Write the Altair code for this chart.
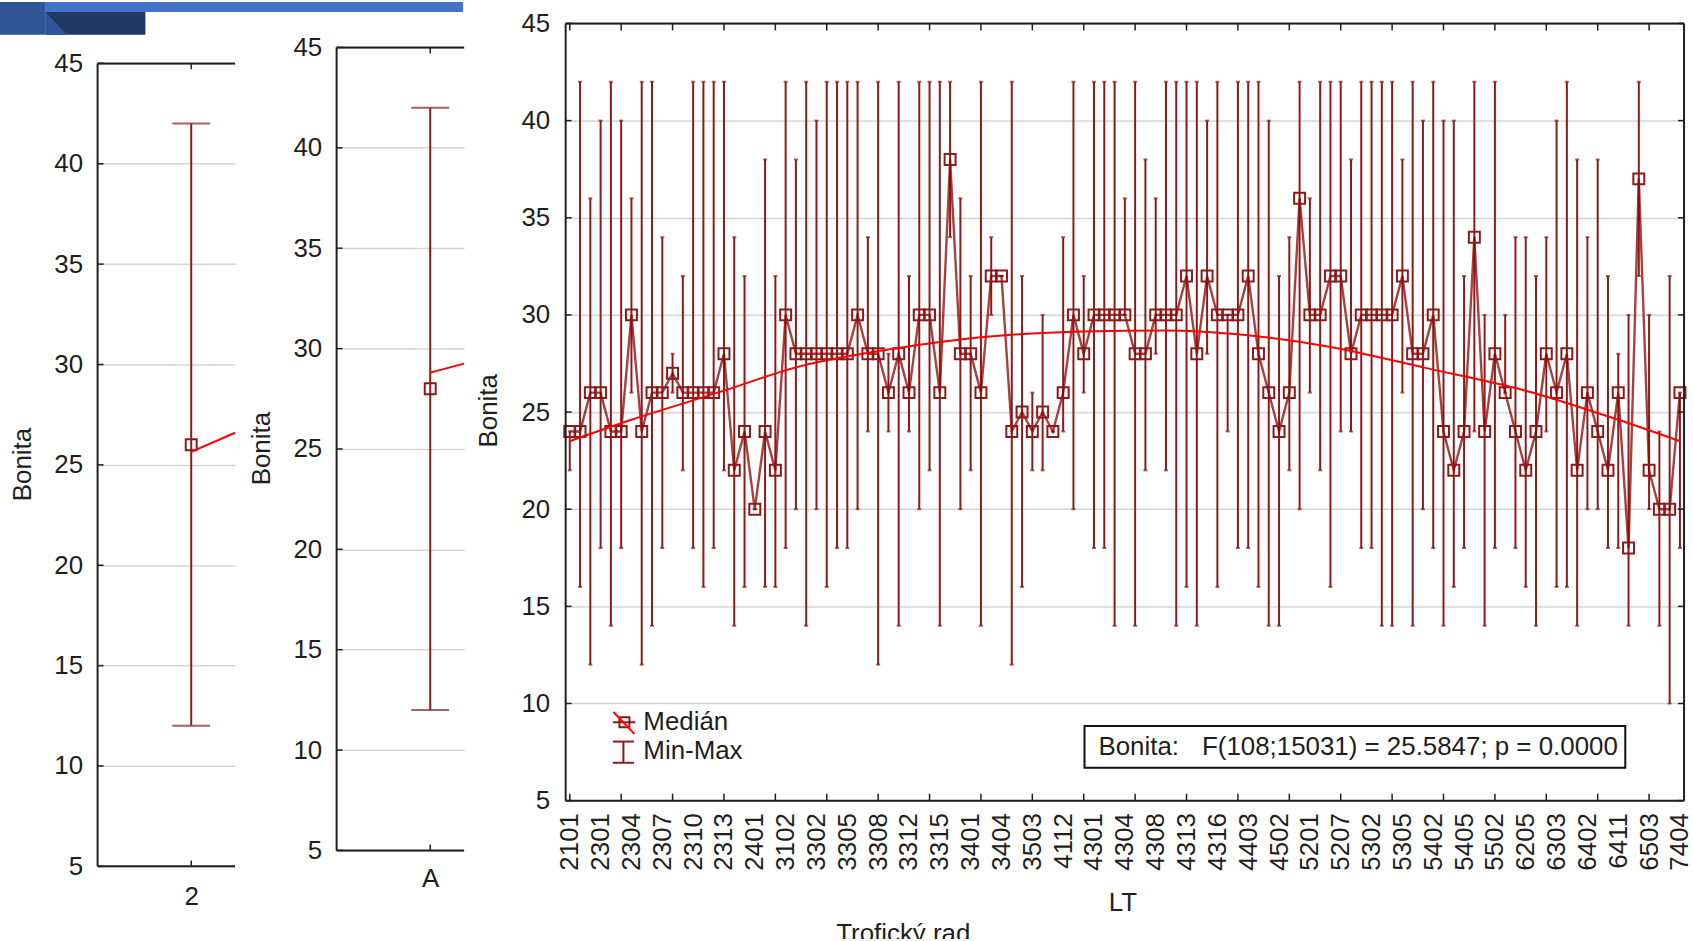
import altair as alt
import pandas as pd

# ---------------- data ----------------
cats = ["2101","2201","2202","2301","2302","2303","2304","2305","2306","2307",
        "2308","2309","2310","2311","2312","2313","2314","2315","2401","2402",
        "3101","3102","3201","3301","3302","3303","3304","3305","3306","3307",
        "3308","3310","3311","3312","3313","3314","3315","3316","3317","3401",
        "3402","3403","3404","3501","3502","3503","4101","4111","4112","4201",
        "4202","4301","4302","4303","4304","4305","4306","4308","4310","4312",
        "4313","4314","4315","4316","4401","4402","4403","4404","4501","4502",
        "5101","5102","5201","5202","5203","5207","5208","5301","5302","5303",
        "5304","5305","5306","5401","5402","5403","5404","5405","5406","5501",
        "5502","6101","6201","6205","6301","6302","6303","6304","6401","6402",
        "6403","6410","6411","6501","6502","6503","6504","7401","7404"]

med = [24,24,26,26,24,24,30,24,26,26, 27,26,26,26,26,28,22,24,20,24,
       22,30,28,28,28,28,28,28,30,28, 28,26,28,26,30,30,26,38,28,28,
       26,32,32,24,25,24,25,24,26,30, 28,30,30,30,30,28,28,30,30,30,
       32,28,32,30,30,30,32,28,26,24, 26,36,30,30,32,32,28,30,30,30,
       30,32,28,28,30,24,22,24,34,24, 28,26,24,22,24,28,26,28,22,26,
       24,22,26,18,37,22,20,20,26]
mn = [22,16,12,18,14,18,26,12,14,18, 26,22,18,16,18,22,14,16,20,16,
      16,18,20,14,20,16,18,18,20,24, 12,24,14,24,20,22,14,34,20,22,
      14,30,32,12,16,22,22,24,24,20, 26,18,18,14,30,14,22,28,22,14,
      16,14,28,16,24,18,18,16,14,14, 22,20,26,22,16,24,24,18,18,14,
      14,26,14,20,18,14,16,18,24,14, 18,26,18,16,14,24,16,16,14,20,
      20,18,18,14,32,20,14,10,18]
mx = [24,42,36,40,42,40,36,42,42,34, 28,32,42,42,42,42,34,32,20,38,
      32,42,38,42,40,42,42,42,42,34, 42,28,42,32,42,42,42,42,36,32,
      42,34,32,42,32,26,30,24,34,42, 32,42,42,42,36,42,38,36,42,42,
      42,42,40,42,30,42,42,42,40,32, 34,42,36,42,42,42,38,42,42,42,
      42,38,42,40,42,40,40,32,42,30, 42,30,34,34,32,34,40,42,38,34,
      38,32,28,30,42,30,24,32,26]

trend_idx = [0, 6, 15, 22, 32, 40, 50, 58, 65, 74, 83, 93, 102, 108]
trend_val = [23.5, 24.6, 26.1, 27.3, 28.3, 28.85, 29.15, 29.2, 29.0, 28.35, 27.3, 26.1, 24.6, 23.5]

left_cat = ["2"]; left_med = [26]; left_min = [12]; left_max = [42]; left_trend = [25.65, 26.6]
mid_cat = ["A"]; mid_med = [28]; mid_min = [12]; mid_max = [42]; mid_trend = [28.8, 29.25]

y_ticks = [5, 10, 15, 20, 25, 30, 35, 40, 45]
stat_label = "Bonita:"
stat_text = "F(108;15031) = 25.5847; p = 0.0000"

# ---------------- styles ----------------
FONT = "Liberation Sans"
TXT = "#1e1e1e"
MAROON = "#8B1A1A"
LINEC = "#8B0000"
RED = "#FF0000"
GRID = "#d5d5d5"
AXC = "#1f1f1f"
FS = 26

one = pd.DataFrame({"k": [0]})


def Yq(field, dom, tx, ty, lp):
    return alt.Y(f"{field}:Q",
                 scale=alt.Scale(domain=dom, nice=False, zero=False),
                 title="Bonita",
                 axis=alt.Axis(values=y_ticks, grid=True, gridColor=GRID, gridWidth=1.5,
                               domain=False, ticks=False, tickSize=0, labelPadding=lp,
                               labelFont=FONT, labelFontSize=FS, labelColor=TXT,
                               titleFont=FONT, titleFontSize=FS, titleColor=TXT,
                               titleFontWeight="normal", titleAngle=270,
                               titleAlign="center", titleBaseline="middle",
                               titleX=tx, titleY=ty))


def vrule(x, y1, y2, w=2):
    return alt.Chart(one).mark_rule(color=AXC, strokeWidth=w).encode(
        x=alt.value(x), y=alt.value(y1), y2=alt.value(y2))


def hrule(x1, x2, y, w=2, color=AXC):
    return alt.Chart(one).mark_rule(color=color, strokeWidth=w).encode(
        x=alt.value(x1), x2=alt.value(x2), y=alt.value(y))


# ---------------- small panels ----------------
def small_panel(cat, m, lo, hi, tr, W, H, top_px, title_y, label_pad, cat_px, deco=False):
    ppu = (H - top_px) / 40.0
    dom = [5, 45 + top_px / ppu]
    d = pd.DataFrame({"cat": cat, "med": m, "lo": lo, "hi": hi,
                      "t0": [tr[0]], "t1": [tr[1]]})
    xS = alt.X("cat:N", scale=alt.Scale(type="point", padding=0, align=cat_px / W),
               title=None,
               axis=alt.Axis(labelAngle=0, labelFont=FONT, labelFontSize=FS, labelColor=TXT,
                             labelPadding=label_pad, ticks=False, tickSize=0,
                             domain=False, grid=False))
    yS = lambda f: Yq(f, dom, -75, title_y, 15)
    ytdf = pd.DataFrame({"v": y_ticks})
    layers = [
        alt.Chart(d).mark_rule(color=MAROON, strokeWidth=2).encode(x=xS, y=yS("lo"), y2=alt.Y2("hi:Q")),
        alt.Chart(d).mark_tick(color=MAROON, size=38, thickness=2).encode(x=xS, y=yS("lo")),
        alt.Chart(d).mark_tick(color=MAROON, size=38, thickness=2).encode(x=xS, y=yS("hi")),
        alt.Chart(d).mark_point(shape="square", size=121, filled=False, color=MAROON,
                                strokeWidth=2, opacity=1).encode(x=xS, y=yS("med")),
        alt.Chart(d).mark_rule(color=RED, strokeWidth=2).encode(
            x=xS, x2=alt.value(W), y=yS("t0"), y2=alt.Y2("t1:Q")),
        vrule(0, top_px, H),
        hrule(0, W, top_px),
        hrule(0, W, H),
        alt.Chart(ytdf).mark_rule(color=AXC, strokeWidth=1.5).encode(
            x=alt.value(0), x2=alt.value(6), y=yS("v")),
        alt.Chart(d).mark_rule(color=AXC, strokeWidth=1.5).encode(
            x=xS, y=alt.value(top_px), y2=alt.value(top_px + 6)),
        alt.Chart(d).mark_rule(color=AXC, strokeWidth=1.5).encode(
            x=xS, y=alt.value(H - 6), y2=alt.value(H)),
    ]
    if deco:
        layers += [
            alt.Chart(one).mark_rect(color="#2F5597").encode(
                x=alt.value(-98), x2=alt.value(-52), y=alt.value(0), y2=alt.value(33)),
            alt.Chart(one).mark_rect(color="#4472C4").encode(
                x=alt.value(-52), x2=alt.value(367), y=alt.value(0), y2=alt.value(10)),
            alt.Chart(one).mark_rect(color="#1F3864").encode(
                x=alt.value(-52), x2=alt.value(48), y=alt.value(10), y2=alt.value(33)),
            alt.Chart(one).mark_point(shape="M -1 -1 L 0.826 1 L -1 1 Z", size=529, filled=True,
                                      color="#2F5597", strokeWidth=0, opacity=1).encode(
                x=alt.value(-40.5), y=alt.value(21.5)),
        ]
    return alt.layer(*layers).properties(width=W, height=H)


left = small_panel(left_cat, left_med, left_min, left_max, left_trend,
                   138, 868, 61.7, 464, 17, 94, deco=True)
mid = small_panel(mid_cat, mid_med, mid_min, mid_max, mid_trend,
                  128, 852, 45.7, 448, 15, 94)

# ---------------- main panel ----------------
WR, HR = 1123, 941
R_TOP, R_BOT = 21.6, 802.0
r_ppu = (R_BOT - R_TOP) / 40.0
r_dom = [5 - (HR - R_BOT) / r_ppu, 45 + R_TOP / r_ppu]

xR = alt.X("cat:O", sort=cats,
           scale=alt.Scale(type="point", domain=cats, padding=0.4),
           title="LT",
           axis=alt.Axis(values=cats[::3], labelAngle=270, labelFont=FONT, labelFontSize=FS,
                         labelColor=TXT, labelPadding=12, labelOverlap=False,
                         ticks=False, tickSize=0, domain=False, grid=False,
                         offset=-(HR - R_BOT),
                         titleX=1127 - 568, titleY=904 - 802, titleAlign="center",
                         titleBaseline="middle", titleFont=FONT, titleFontSize=FS,
                         titleColor=TXT, titleFontWeight="normal"))
yR = lambda f: Yq(f, r_dom, -77, 410, 16)

df = pd.DataFrame({"cat": cats, "med": med, "lo": mn, "hi": mx})
tdf = pd.DataFrame({"cat": [cats[i] for i in trend_idx], "tv": trend_val})
ytdf = pd.DataFrame({"v": y_ticks})
xtdf = pd.DataFrame({"cat": cats[::5]})

txt = dict(font=FONT, fontSize=FS, color=TXT)

right_layers = [
    alt.Chart(df).mark_rule(color=MAROON, strokeWidth=2).encode(x=xR, y=yR("lo"), y2=alt.Y2("hi:Q")),
    alt.Chart(df).mark_tick(color=MAROON, size=4, thickness=2).encode(x=xR, y=yR("lo")),
    alt.Chart(df).mark_tick(color=MAROON, size=4, thickness=2).encode(x=xR, y=yR("hi")),
    alt.Chart(df).mark_line(color=LINEC, strokeWidth=2.4, opacity=0.75).encode(x=xR, y=yR("med")),
    alt.Chart(df).mark_point(shape="square", size=121, filled=False, color=MAROON,
                             strokeWidth=2, opacity=1).encode(x=xR, y=yR("med")),
    alt.Chart(tdf).mark_line(color=RED, strokeWidth=2, interpolate="monotone").encode(x=xR, y=yR("tv")),
    # frame
    vrule(0, R_TOP, R_BOT),
    vrule(WR, R_TOP, R_BOT),
    hrule(0, WR, R_TOP),
    hrule(0, WR, R_BOT),
    # inward ticks
    alt.Chart(ytdf).mark_rule(color=AXC, strokeWidth=1.5).encode(
        x=alt.value(0), x2=alt.value(6), y=yR("v")),
    alt.Chart(ytdf).mark_rule(color=AXC, strokeWidth=1.5).encode(
        x=alt.value(WR - 6), x2=alt.value(WR), y=yR("v")),
    alt.Chart(xtdf).mark_rule(color=AXC, strokeWidth=1.5).encode(
        x=xR, y=alt.value(R_BOT - 7), y2=alt.value(R_BOT)),
    alt.Chart(xtdf).mark_rule(color=AXC, strokeWidth=1.5).encode(
        x=xR, y=alt.value(R_TOP), y2=alt.value(R_TOP + 7)),
    # legend
    hrule(47.5, 70, 723.3, w=2, color=MAROON),
    alt.Chart(one).mark_point(shape="square", size=100, filled=False, color=MAROON,
                              strokeWidth=2, opacity=1).encode(x=alt.value(59), y=alt.value(723.3)),
    alt.Chart(one).mark_rule(color=RED, strokeWidth=2).encode(
        x=alt.value(48), y=alt.value(713), x2=alt.value(69), y2=alt.value(735)),
    alt.Chart(one).mark_rule(color=MAROON, strokeWidth=2).encode(
        x=alt.value(58), y=alt.value(742.7), y2=alt.value(764)),
    hrule(47.5, 68.5, 742.7, w=2, color=MAROON),
    hrule(47.5, 68.5, 764, w=2, color=MAROON),
    alt.Chart(one).mark_text(text="Medián", align="left", baseline="middle", **txt).encode(
        x=alt.value(78), y=alt.value(723)),
    alt.Chart(one).mark_text(text="Min-Max", align="left", baseline="middle", **txt).encode(
        x=alt.value(78), y=alt.value(752)),
    # statistics box
    alt.Chart(one).mark_rect(fill="white", stroke="#111111", strokeWidth=2).encode(
        x=alt.value(521), x2=alt.value(1064), y=alt.value(727), y2=alt.value(769)),
    alt.Chart(one).mark_text(text=stat_label, align="left", baseline="middle", **txt).encode(
        x=alt.value(535), y=alt.value(748)),
    alt.Chart(one).mark_text(text=stat_text, align="left", baseline="middle", **txt).encode(
        x=alt.value(639), y=alt.value(748)),
    # caption cropped at the bottom edge, as in the reference
    alt.Chart(one).mark_text(text="Trofický rad", align="center", baseline="alphabetic",
                             clip=True, **txt).encode(x=alt.value(339), y=alt.value(944)),
]
right = alt.layer(*right_layers).properties(width=WR, height=HR)

chart = alt.hconcat(left, mid, right, spacing=102, bounds="flush").properties(
    padding=0, background="white"
).configure(font=FONT).configure_view(strokeWidth=0)

chart.save("out.html", embed_options={"renderer": "svg", "actions": False})
